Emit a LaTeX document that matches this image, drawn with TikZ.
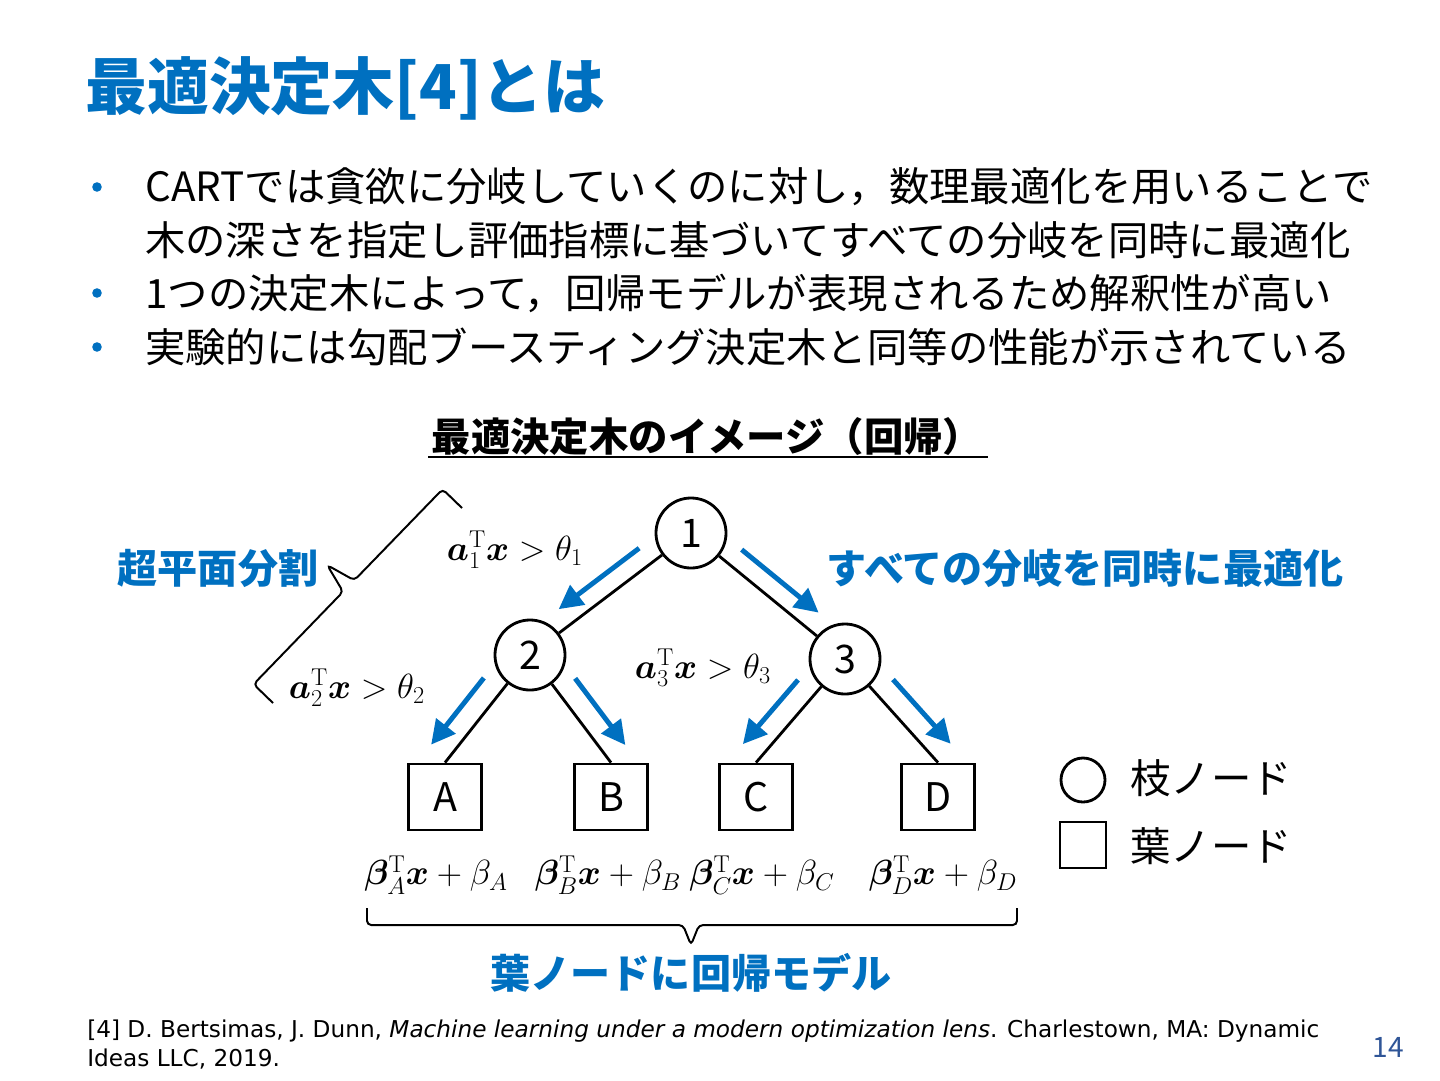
\documentclass[tikz,border=0pt]{standalone}
\usepackage[no-math]{fontspec}
\usepackage{amsmath,bm}
\setmainfont{Noto Sans CJK JP}
\newfontfamily\reffont{DejaVu Sans}
\usetikzlibrary{arrows.meta,calc}
\definecolor{slideblue}{RGB}{0,112,192}
\definecolor{pagenum}{RGB}{47,85,151}

\begin{document}
\begin{tikzpicture}[
  x=0.025cm, y=-0.025cm,
  branch/.style={circle, draw, line width=2pt, minimum size=1.75cm, inner sep=0pt,
    font=\fontsize{28}{32}\selectfont},
  leaf/.style={rectangle, draw, line width=2pt, minimum width=1.82cm,
    minimum height=1.65cm, inner sep=0pt, font=\fontsize{28}{32}\selectfont},
  branchline/.style={line width=2pt},
  flow/.style={draw=slideblue, line width=3.5pt, -{Triangle[length=17pt,width=17pt]}},
  note/.style={text=slideblue, inner sep=0pt, font=\fontsize{28.5}{32}\selectfont\bfseries},
  body/.style={anchor=west, inner sep=0pt, font=\fontsize{28.7}{34}\selectfont},
  eq/.style={inner sep=0pt, font=\fontsize{24}{28}\selectfont},
  bracket/.style={line width=1.4pt, rounded corners=3pt}
]
\useasboundingbox (0,0) rectangle (1440,1080);

%================================================
% HEADER AND BULLETS
%================================================
\node[anchor=west, inner sep=0pt, text=slideblue,
  font=\fontsize{44}{50}\selectfont\bfseries] (title) at (85,88) {最適決定木[4]とは};

\foreach \y in {187,293,347}
  \fill[slideblue] (97,\y) circle (0.12cm);

\node[body] (line1) at (145,187) {CARTでは貪欲に分岐していくのに対し，数理最適化を用いることで};
\node[body] (line2) at (145,240) {木の深さを指定し評価指標に基づいてすべての分岐を同時に最適化};
\node[body] (line3) at (145,293) {1つの決定木によって，回帰モデルが表現されるため解釈性が高い};
\node[body] (line4) at (145,347) {実験的には勾配ブースティング決定木と同等の性能が示されている};

% figure caption
\node[inner sep=0pt, font=\fontsize{28}{32}\selectfont\bfseries] (figtitle) at (707,437)
  {最適決定木のイメージ（回帰）};
\draw[line width=1.5pt] (428,457) -- (988,457);

%================================================
% TREE
%================================================
\node[branch] (n1) at (691,533) {1};
\node[branch] (n2) at (530,655) {2};
\node[branch] (n3) at (845,659) {3};

\node[leaf] (lA) at (445,797) {A};
\node[leaf] (lB) at (611,797) {B};
\node[leaf] (lC) at (756,797) {C};
\node[leaf] (lD) at (938,797) {D};

\draw[branchline] (n1) -- (n2);
\draw[branchline] (n1) -- (n3);
\foreach \a/\b in {n2/lA, n2/lB, n3/lC, n3/lD}
  \draw[branchline] (\a) -- (\b.north);

% blue arrows along the branches
\foreach \a/\b/\s in {n1/n2/-90, n1/n3/90}
  \draw[flow] ($(\a)!0.25!(\b)!0.48cm!\s:(\b)$) -- ($(\a)!0.75!(\b)!0.48cm!\s:(\b)$);
\foreach \a/\b/\s in {n2/lA/-90, n2/lB/90, n3/lC/-90, n3/lD/90}
  \draw[flow] ($(\a)!0.34!(\b.north)!0.55cm!\s:(\b.north)$) -- ($(\a)!0.96!(\b.north)!0.55cm!\s:(\b.north)$);

% split conditions
\node[eq] (c1) at (515,550) {$\bm{a}_1^{\mathrm{T}}\bm{x} > \theta_1$};
\node[eq] (c2) at (357,688) {$\bm{a}_2^{\mathrm{T}}\bm{x} > \theta_2$};
\node[eq] (c3) at (703,668) {$\bm{a}_3^{\mathrm{T}}\bm{x} > \theta_3$};

% leaf models
\foreach \k/\x in {A/436, B/608, C/762, D/943}
  \node[eq] (m\k) at (\x,875) {$\bm{\beta}_\k^{\mathrm{T}}\bm{x} + \beta_\k$};

%================================================
% BRACES AND LABELS
%================================================
\draw[bracket] (273,703) -- (253.6,684.2) -- (343.1,591.7) -- (327.2,565.1)
  -- (354.3,580.3) -- (442.6,489.2) -- (462,508);
\draw[bracket] (367,908) -- (367,925) -- (683,925) -- (691,945) -- (699,925)
  -- (1017,925) -- (1017,908);

\node[note] (hyper) at (218,568) {超平面分割};
\node[note] (simul) at (1085,568) {すべての分岐を同時に最適化};
\node[note] (leafmodel) at (691,973) {葉ノードに回帰モデル};

%================================================
% LEGEND
%================================================
\node[branch, minimum size=1.1cm] (keyb) at (1083,780) {};
\node[leaf, minimum width=1.15cm, minimum height=1.15cm] (keyl) at (1083,845) {};
\node[body] (keybt) at (1130,778) {枝ノード};
\node[body] (keylt) at (1130,846) {葉ノード};

% reference and page number
\node[anchor=north west, inner sep=0pt, align=left,
  font=\reffont\fontsize{16.5}{20.6}\selectfont] (ref) at (87,1020)
  {[4] D. Bertsimas, J. Dunn, \textit{Machine learning under a modern optimization lens}. Charlestown, MA: Dynamic\\
   Ideas LLC, 2019.};
\node[text=pagenum, inner sep=0pt, font=\fontsize{20}{24}\selectfont] (page) at (1388,1047) {14};

\end{tikzpicture}
\end{document}
